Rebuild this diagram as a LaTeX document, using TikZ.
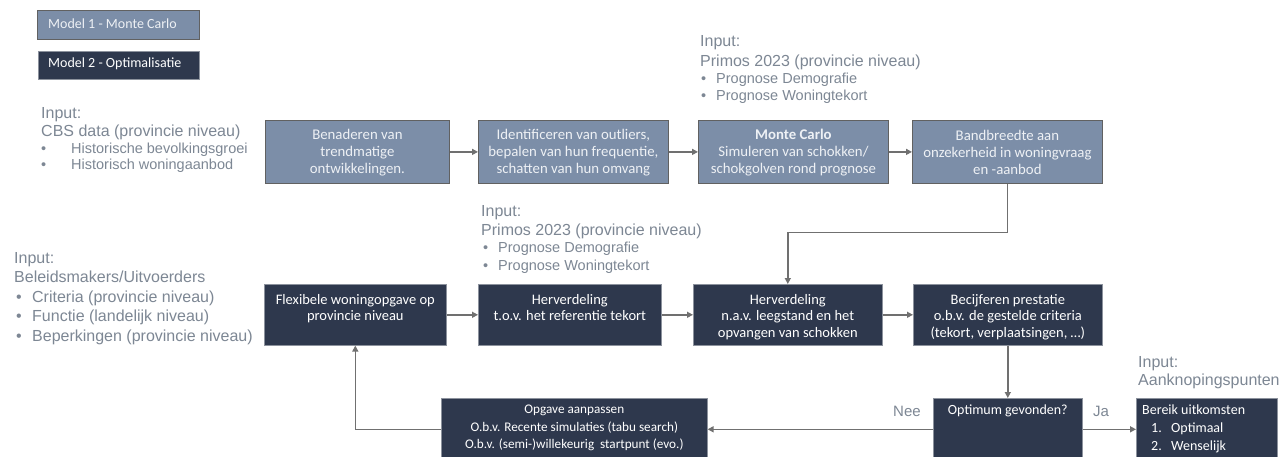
\documentclass[tikz,border=0pt]{standalone}
\usepackage{fontspec}
\setmainfont{Carlito}
\newfontfamily\arialf{Liberation Sans}
\usetikzlibrary{arrows.meta}
\definecolor{lightfill}{RGB}{124,142,168}
\definecolor{darkfill}{RGB}{46,56,77}
\definecolor{inputgray}{RGB}{125,135,148}
\definecolor{arrowgray}{RGB}{112,112,112}
\definecolor{paletext}{RGB}{238,241,245}
\begin{document}
\begin{tikzpicture}[x=1pt,y=-1pt,
  lbox/.style={draw=black!62, line width=0.8pt, fill=lightfill, inner sep=0pt, anchor=north west},
  dbox/.style={draw=darkfill!55!white, line width=0.6pt, fill=darkfill, inner sep=0pt, anchor=north west},
  btxt/.style={font=\fontsize{14.5}{16.5}\selectfont, align=center, inner sep=0pt},
  ttxt/.style={font=\fontsize{14.8}{17}\selectfont, align=center, inner sep=0pt, text=paletext},
  btop/.style={btxt, anchor=north, execute at begin node={\rule{0pt}{10pt}}},
  inhead/.style={font=\arialf\fontsize{16}{18}\selectfont, text=inputgray, anchor=base west, inner sep=0pt},
  insub/.style={font=\arialf\fontsize{14.5}{16}\selectfont, text=inputgray, anchor=base west, inner sep=0pt},
  inbig/.style={font=\arialf\fontsize{16}{18}\selectfont, text=inputgray, anchor=base west, inner sep=0pt},
  conn/.style={draw=arrowgray, line width=1.4pt, -{Triangle[length=6pt,width=6pt]}},
  lgtxt/.style={font=\fontsize{14}{16}\selectfont, text=paletext, anchor=base west, inner sep=0pt}]
\useasboundingbox (0,0) rectangle (1280,457);
\fill[white] (0,0) rectangle (1280,457);
\clip (0,0) rectangle (1280,457);

% legend
\node[lbox, minimum width=162pt, minimum height=29pt] (L1) at (37,10) {};
\node[lgtxt] (L1t) at (48,29) {Model 1 - Monte Carlo};
\node[dbox, minimum width=161pt, minimum height=28pt] (L2) at (38,51) {};
\node[lgtxt, text=white] (L2t) at (48,68) {Model 2 - Optimalisatie};

% input texts
\node[inhead] (i1a) at (41,119) {Input:};
\node[inhead] (i1b) at (41,137) {CBS data (provincie niveau)};
\node[insub] (i1c) at (41,154) {\makebox[30pt][l]{\textbullet}Historische bevolkingsgroei};
\node[insub] (i1d) at (41,170) {\makebox[30pt][l]{\textbullet}Historisch woningaanbod};

\node[inhead] (i2a) at (700,47) {Input:};
\node[inhead] (i2b) at (700,67) {Primos 2023 (provincie niveau)};
\node[insub] (i2c) at (701,84) {\makebox[15pt][l]{\textbullet}Prognose Demografie};
\node[insub] (i2d) at (701,101) {\makebox[15pt][l]{\textbullet}Prognose Woningtekort};

\node[inhead] (i3a) at (481,217) {Input:};
\node[inhead] (i3b) at (481,236) {Primos 2023 (provincie niveau)};
\node[insub] (i3c) at (483,253) {\makebox[15pt][l]{\textbullet}Prognose Demografie};
\node[insub] (i3d) at (483,270) {\makebox[15pt][l]{\textbullet}Prognose Woningtekort};

\node[inhead] (i4a) at (14,264) {Input:};
\node[inhead] (i4b) at (14,283) {Beleidsmakers/Uitvoerders};
\node[inbig] (i4c) at (16,302) {\makebox[16pt][l]{\textbullet}Criteria (provincie niveau)};
\node[inbig] (i4d) at (16,321) {\makebox[16pt][l]{\textbullet}Functie (landelijk niveau)};
\node[inbig] (i4e) at (16,341) {\makebox[16pt][l]{\textbullet}Beperkingen (provincie niveau)};

\node[inhead] (i5a) at (1138,367) {Input:};
\node[inhead] (i5b) at (1138,385) {Aanknopingspunten};

% top row (model 1)
\node[lbox, minimum width=184pt, minimum height=63pt] (A) at (265,120) {};
\node[lbox, minimum width=190pt, minimum height=63pt] (B) at (478,120) {};
\node[lbox, minimum width=190pt, minimum height=63pt] (MC) at (698,120) {};
\node[lbox, minimum width=190pt, minimum height=63pt] (Band) at (912,120) {};
\node[ttxt] (At) at ([yshift=-1pt]A.center) {Benaderen van\\trendmatige\\ontwikkelingen.};
\node[ttxt] (Bt) at ([yshift=-1pt]B.center) {Identificeren van outliers,\\bepalen van hun frequentie,\\schatten van hun omvang};
\node[ttxt] (MCt) at ([yshift=-1pt]MC.center) {\textbf{Monte Carlo}\\Simuleren van schokken/\\schokgolven rond prognose};
\node[ttxt] (Bandt) at ([yshift=-1pt]Band.center) {Bandbreedte aan\\onzekerheid in woningvraag\\en -aanbod};

% middle row (model 2)
\node[dbox, minimum width=182pt, minimum height=61pt] (C) at (264,284) {};
\node[dbox, minimum width=183pt, minimum height=61pt] (D) at (478,284) {};
\node[dbox, minimum width=189pt, minimum height=61pt] (E) at (693,284) {};
\node[dbox, minimum width=189pt, minimum height=61pt] (F) at (913,284) {};
\node[btop, text=white] (Ct) at ([yshift=-10pt]C.north) {Flexibele woningopgave op\\provincie niveau};
\node[btop, text=white] (Dt) at ([yshift=-10pt]D.north) {Herverdeling\\t.o.v. het referentie tekort};
\node[btop, text=white] (Et) at ([yshift=-10pt]E.north) {Herverdeling\\n.a.v. leegstand en het\\opvangen van schokken};
\node[btop, text=white] (Ft) at ([yshift=-10pt]F.north) {Becijferen prestatie\\o.b.v. de gestelde criteria\\(tekort, verplaatsingen, \dots)};

% bottom row
\node[dbox, minimum width=266pt, minimum height=62pt] (Opg) at (441,398) {};
\node[dbox, minimum width=149pt, minimum height=62pt] (Opt) at (933,398) {};
\node[dbox, minimum width=141pt, minimum height=62pt] (Ber) at (1136,398) {};
\node[btop, text=white, font=\fontsize{13.2}{17.5}\selectfont] (Opgt) at ([yshift=-7pt]Opg.north) {Opgave aanpassen\\O.b.v. Recente simulaties (tabu search)\\O.b.v. (semi-)willekeurig\ \ startpunt (evo.)};
\node[btop, text=white, font=\fontsize{14}{17}\selectfont] (Optt) at ([yshift=-6pt]Opt.north) {Optimum gevonden?};
\node[btxt, text=white, font=\fontsize{14}{17}\selectfont, anchor=base west] (Bert) at (1142,414) {Bereik uitkomsten};
\node[btxt, text=white, font=\fontsize{14}{17}\selectfont, anchor=base west] (Ber1) at (1151,432) {\makebox[20pt][l]{1.}Optimaal};
\node[btxt, text=white, font=\fontsize{14}{17}\selectfont, anchor=base west] (Ber2) at (1151,450) {\makebox[20pt][l]{2.}Wenselijk};

% connectors
\draw[conn] (A.east) -- (B.west);
\draw[conn] (B.east) -- (MC.west);
\draw[conn] (MC.east) -- (Band.west);
\draw[conn] (Band.south) -- ++(0,49) -| (E.north);
\draw[conn] (C.east) -- (D.west);
\draw[conn] (D.east) -- (E.west);
\draw[conn] (E.east) -- (F.west);
\draw[conn] (F.south) -- (Opt.north);
\draw[conn] (Opt.east) -- (Ber.west);
\draw[conn] (Opt.west) -- (Opg.east);
\draw[conn] (Opg.west) -| (C.south);

\node[inhead, font=\arialf\fontsize{15}{17}\selectfont] (nee) at (893,416) {Nee};
\node[inhead, font=\arialf\fontsize{15}{17}\selectfont] (ja) at (1093,416) {Ja};
\end{tikzpicture}
\end{document}
